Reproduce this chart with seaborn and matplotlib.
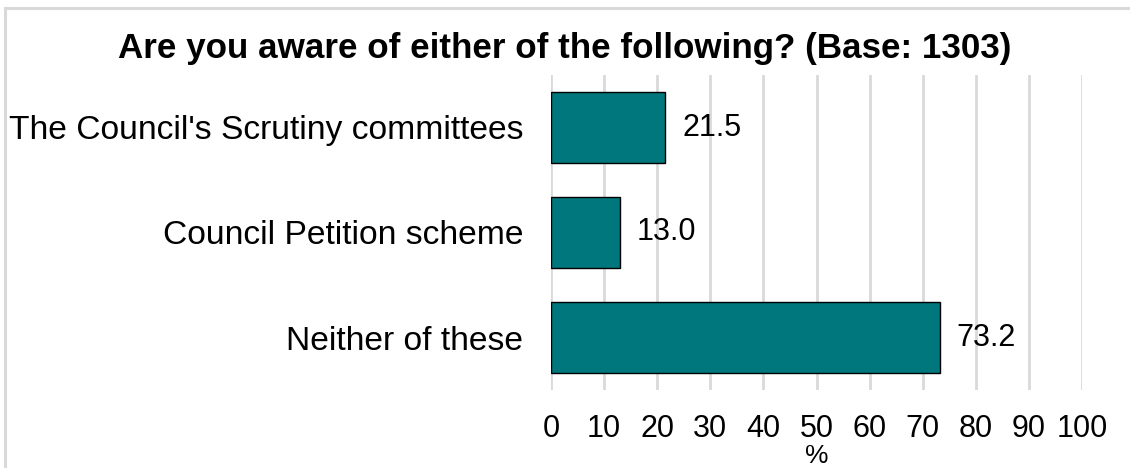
import matplotlib
matplotlib.use("Agg")
import matplotlib.pyplot as plt
import matplotlib.patches as mpatches
import seaborn as sns
import pandas as pd

categories = ["The Council's Scrutiny committees", "Council Petition scheme", "Neither of these"]
values = [21.5, 13.0, 73.2]
xticks = [0, 10, 20, 30, 40, 50, 60, 70, 80, 90, 100]
title = "Are you aware of either of the following? (Base: 1303)"

sns.set_theme(style="white")
plt.rcParams['font.family'] = ['Liberation Sans', 'DejaVu Sans']

df = pd.DataFrame({"cat": categories, "val": values})

fig = plt.figure(figsize=(11.3, 4.68), dpi=100)
ax = fig.add_axes([551/1130, 1 - 390/468, (1082 - 551)/1130, (390 - 75)/468])

sns.barplot(data=df, x="val", y="cat", orient="h", color="#00777C", saturation=1,
            width=0.667, edgecolor="black", linewidth=1, ax=ax, zorder=3)

ax.set_xlim(0, 100)
ax.set_ylim(2.5, -0.5)
ax.set_xticks(xticks)
ax.set_xticklabels([str(t) for t in xticks])
ax.grid(axis="x", color="#d9d9d9", linewidth=2, zorder=0)
ax.grid(axis="y", visible=False)
for s in ax.spines.values():
    s.set_visible(False)
ax.tick_params(axis="x", length=0, pad=17, labelsize=22, colors="black")
ax.tick_params(axis="y", length=0, pad=20, labelsize=24.2, colors="black")
ax.set_ylabel("")
ax.set_xlabel("%", fontsize=19, color="black", labelpad=0)

for i, v in enumerate(values):
    ax.text(v + 3.2, i, f"{v:.1f}", va="center", ha="left", fontsize=22, color="black")

fig.text(0.5, 1 - 58/468, title, ha="center", va="baseline", fontsize=25.2, fontweight="bold", color="black")

fig.patches.append(mpatches.Rectangle((5/1130, -0.1), 1.2, 1 - 8/468 + 0.1, transform=fig.transFigure,
                                      fill=False, edgecolor="#d9d9d9", linewidth=2.2, zorder=0))

fig.savefig("out.png", dpi=100)
